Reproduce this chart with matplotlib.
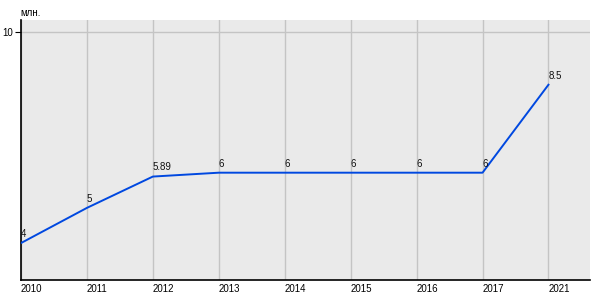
import matplotlib.pyplot as plt

years = ['2010', '2011', '2012', '2013', '2014', '2015', '2016', '2017', '2021']
values = [4, 5, 5.89, 6, 6, 6, 6, 6, 8.5]
labels = ['4', '5', '5.89', '6', '6', '6', '6', '6', '8.5']

plt.rcParams['font.family'] = ['Liberation Sans', 'DejaVu Sans']

fig = plt.figure(figsize=(6, 3), dpi=100)
ax = fig.add_axes([21 / 600, 20 / 300, 569 / 600, 260 / 300])
ax.set_facecolor('#eaeaea')

x = list(range(len(years)))
ax.plot(x, values, color='#0048e0', linewidth=1.4, zorder=3)
for xi, v, lab in zip(x, values, labels):
    ax.annotate(lab, (xi, v), xytext=(0, 3), textcoords='offset points',
                fontsize=7, color='#111111', ha='left', va='bottom')

ax.set_xlim(0, 8.63)
ax.set_ylim(2.95, 10.34)
ax.set_xticks(x)
ax.set_xticklabels(years, ha='left')
ax.set_yticks([10])
ax.set_yticklabels(['10'])
ax.tick_params(axis='x', length=0, labelsize=7, pad=3)
ax.tick_params(axis='y', length=4, labelsize=7, pad=2)
ax.grid(True, color='#c4c4c4', linewidth=1)
ax.set_axisbelow(True)
for side in ['top', 'right']:
    ax.spines[side].set_visible(False)
for side in ['left', 'bottom']:
    ax.spines[side].set_color('black')
    ax.spines[side].set_linewidth(1.2)

fig.text(20 / 600, 1 - 13 / 300, 'млн.', fontsize=7, va='center', ha='left')

fig.savefig('out.png', dpi=100)
plt.close()
